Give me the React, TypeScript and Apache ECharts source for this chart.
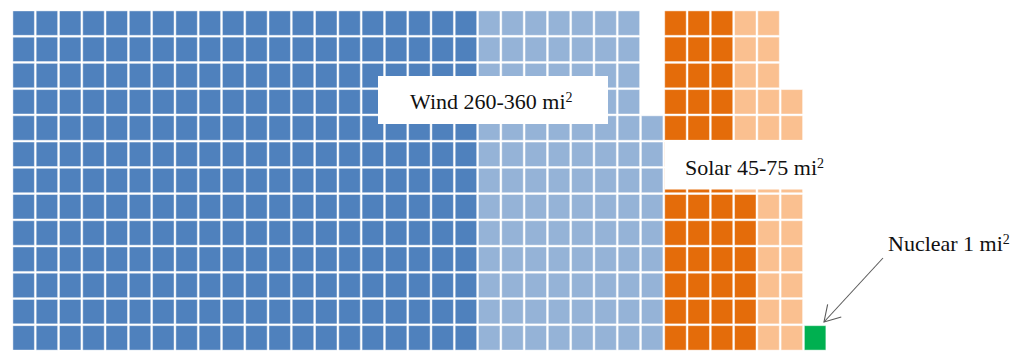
import React, { useEffect, useRef } from "react";
import * as echarts from "echarts";

// Land area needed by each source, one cell per square mile.
const categories = ["Wind", "Solar", "Nuclear"];
const lowValues = [260, 45, 1];
const highValues = [360, 75, 1];
const rowsPerColumn = 13;
const lowColors = ["#4F81BD", "#E46C0A", "#00B050"];
const highColors = ["#95B3D7", "#FAC090", "#00B050"];

const labelFont = '"Liberation Serif", "Times New Roman", serif';

type Cell = [number, number];

// Cells fill each column from the bottom up; each category starts a new column.
function buildSeries() {
  const series: any[] = [];
  let colOffset = 0;
  categories.forEach((name, k) => {
    const low: Cell[] = [];
    const high: Cell[] = [];
    for (let i = 0; i < highValues[k]; i++) {
      const col = colOffset + Math.floor(i / rowsPerColumn);
      const row = rowsPerColumn - 1 - (i % rowsPerColumn);
      (i < lowValues[k] ? low : high).push([col, row]);
    }
    colOffset += Math.ceil(highValues[k] / rowsPerColumn);
    [
      { data: low, color: lowColors[k], suffix: "low" },
      { data: high, color: highColors[k], suffix: "high" },
    ].forEach((part) => {
      if (!part.data.length) return;
      series.push({
        type: "custom",
        name: `${name} ${part.suffix}`,
        coordinateSystem: "cartesian2d",
        itemStyle: { color: part.color },
        data: part.data,
        silent: true,
        renderItem: (_params: any, api: any) => {
          const c = api.value(0);
          const r = api.value(1);
          const p0 = api.coord([c, r]);
          const p1 = api.coord([c + 1, r + 1]);
          const g = 0.9;
          return {
            type: "rect",
            shape: {
              x: p0[0] + g,
              y: p0[1] + g,
              width: p1[0] - p0[0] - 2 * g,
              height: p1[1] - p0[1] - 2 * g,
            },
            style: {
              fill: api.visual("color"),
              stroke: "rgba(255,255,255,0.45)",
              lineWidth: 1,
            },
          };
        },
      });
    });
  });
  return series;
}

function superText(main: string, x: number, y: number) {
  return {
    type: "text",
    z: 20,
    style: {
      x,
      y,
      text: `{t|${main}}{s|2}`,
      align: "left",
      verticalAlign: "middle",
      rich: {
        t: { fontFamily: labelFont, fontSize: 22, fill: "#111" },
        s: { fontFamily: labelFont, fontSize: 14, fill: "#111", padding: [0, 0, 8, 0] },
      },
    },
  };
}

function arrow(x1: number, y1: number, x2: number, y2: number) {
  const ang = Math.atan2(y1 - y2, x1 - x2);
  const len = 18;
  const spread = (31 * Math.PI) / 180;
  const a = [x2 + len * Math.cos(ang + spread), y2 + len * Math.sin(ang + spread)];
  const b = [x2 + len * Math.cos(ang - spread), y2 + len * Math.sin(ang - spread)];
  const stroke = { stroke: "#5a5a5a", lineWidth: 1.1, fill: null };
  return [
    { type: "line", z: 20, shape: { x1, y1, x2, y2 }, style: stroke },
    { type: "polyline", z: 20, shape: { points: [a, [x2, y2], b] }, style: stroke },
  ];
}

export default function App() {
  const ref = useRef<HTMLDivElement>(null);

  useEffect(() => {
    if (!ref.current) return;
    const chart = echarts.init(ref.current, null, { renderer: "svg" });
    chart.setOption({
      animation: false,
      backgroundColor: "#ffffff",
      grid: { left: 12, top: 10, width: 1001, height: 343.2 },
      xAxis: { type: "value", min: 0, max: 43, show: false },
      yAxis: { type: "value", min: 0, max: rowsPerColumn, inverse: true, show: false },
      series: buildSeries(),
      graphic: [
        { type: "rect", z: 10, shape: { x: 378, y: 76, width: 230, height: 48 }, style: { fill: "#ffffff" } },
        superText("Wind 260-360 mi", 410, 101),
        { type: "rect", z: 10, shape: { x: 664.5, y: 140, width: 180, height: 49.5 }, style: { fill: "#ffffff" } },
        superText("Solar 45-75 mi", 685, 167),
        superText("Nuclear 1 mi", 888, 243.5),
        ...arrow(883, 258, 824, 322),
      ],
    });
    return () => chart.dispose();
  }, []);

  return (
    <div
      ref={ref}
      style={{ position: "fixed", left: 0, top: 0, width: 1013, height: 351 }}
    />
  );
}
